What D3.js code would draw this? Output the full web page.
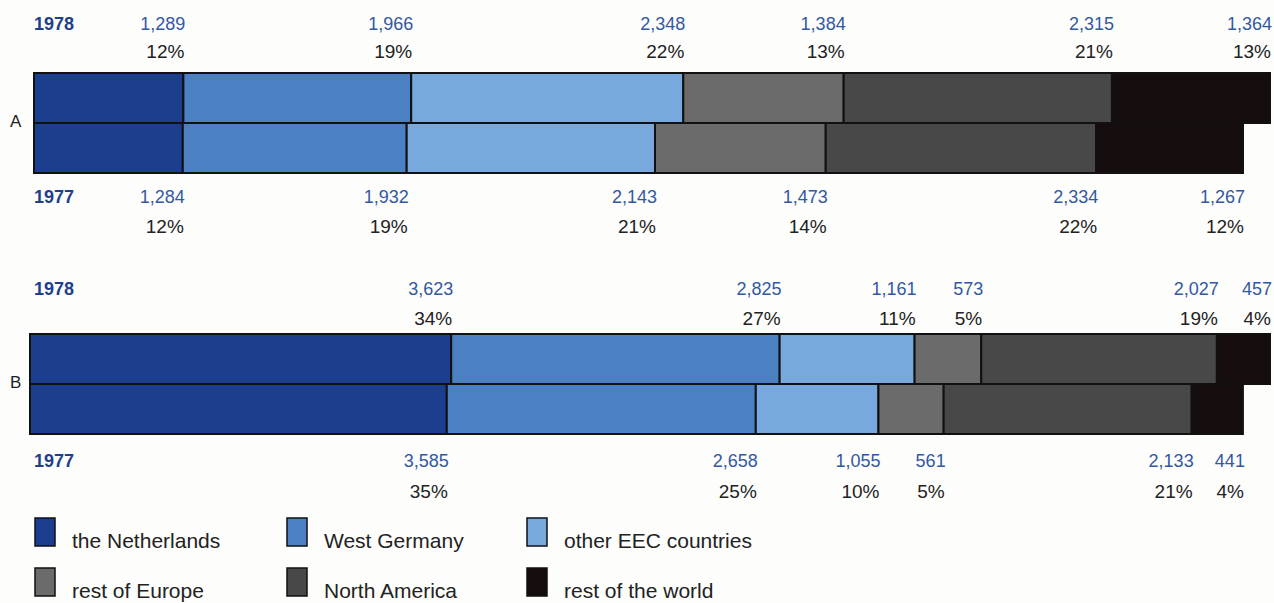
<!DOCTYPE html>
<html>
<head>
<meta charset="utf-8">
<script src="https://cdn.jsdelivr.net/npm/d3@7"></script>
<style>
  body { margin: 0; background: #fdfdfc; }
  svg text { font-family: "Liberation Sans", Arial, Helvetica, sans-serif; }
</style>
</head>
<body>
<div id="chart"></div>
<script>
// categories (stack order, left to right)
const regions = ["the Netherlands", "West Germany", "other EEC countries", "rest of Europe", "North America", "rest of the world"];
const regionColors = ["#1b3f8e", "#4b80c2", "#77a9de", "#6b6b6b", "#484848", "#150d0d"];

const groups = ["A", "B"];
const years = ["1978", "1977"];

// values per group per year
const a1978 = [1289, 1966, 2348, 1384, 2315, 1364];
const a1977 = [1284, 1932, 2143, 1473, 2334, 1267];
const b1978 = [3623, 2825, 1161, 573, 2027, 457];
const b1977 = [3585, 2658, 1055, 561, 2133, 441];

// percent labels as printed
const a1978Pct = ["12%", "19%", "22%", "13%", "21%", "13%"];
const a1977Pct = ["12%", "19%", "21%", "14%", "22%", "12%"];
const b1978Pct = ["34%", "27%", "11%", "5%", "19%", "4%"];
const b1977Pct = ["35%", "25%", "10%", "5%", "21%", "4%"];

const rows = [
  { group: "A", year: "1978", values: a1978, pct: a1978Pct },
  { group: "A", year: "1977", values: a1977, pct: a1977Pct },
  { group: "B", year: "1978", values: b1978, pct: b1978Pct },
  { group: "B", year: "1977", values: b1977, pct: b1977Pct }
];

const width = 1274, height = 603;

// layout per group: bar box and label baselines
const layout = {
  A: { left: 34, top: 73, valAbove: 30, pctAbove: 58, valBelow: 203, pctBelow: 233 },
  B: { left: 30, top: 334, valAbove: 295, pctAbove: 325, valBelow: 467, pctBelow: 498 }
};
const barH = 50;
const right = 1270;

const svg = d3.select("#chart")
  .append("svg")
  .attr("width", width)
  .attr("height", height);

const maxTotal = d3.max(rows, r => d3.sum(r.values));

const xFor = gname => d3.scaleLinear()
  .domain([0, maxTotal])
  .range([layout[gname].left, right]);

const yBand = d3.scaleBand()
  .domain(years)
  .range([0, barH * 2])
  .padding(0);

rows.forEach(row => {
  const L = layout[row.group];
  const x = xFor(row.group);
  const y0 = L.top + yBand(row.year);
  let cum = 0;
  const segs = row.values.map((v, i) => {
    const s = { start: cum, end: cum + v, value: v, pct: row.pct[i], i };
    cum += v;
    return s;
  });

  const g = svg.append("g").attr("class", "row");

  g.selectAll("rect")
    .data(segs)
    .enter()
    .append("rect")
    .attr("x", d => x(d.start))
    .attr("y", y0)
    .attr("width", d => x(d.end) - x(d.start))
    .attr("height", yBand.bandwidth())
    .attr("fill", d => regionColors[d.i])
    .attr("stroke", "#111")
    .attr("stroke-width", 2);

  const above = row.year === "1978";
  const valY = above ? L.valAbove : L.valBelow;
  const pctY = above ? L.pctAbove : L.pctBelow;

  // value labels, right-aligned to each segment end
  g.selectAll("text.val")
    .data(segs)
    .enter()
    .append("text")
    .attr("class", "val")
    .attr("x", d => x(d.end) + 2)
    .attr("y", valY)
    .attr("text-anchor", "end")
    .attr("font-size", "18px")
    .attr("fill", "#3358a3")
    .text(d => d3.format(",")(d.value));

  g.selectAll("text.pct")
    .data(segs)
    .enter()
    .append("text")
    .attr("class", "pct")
    .attr("x", d => x(d.end) + 1)
    .attr("y", pctY)
    .attr("text-anchor", "end")
    .attr("font-size", "19px")
    .attr("fill", "#222")
    .text(d => d.pct);

  // year label
  svg.append("text")
    .attr("x", 34)
    .attr("y", valY)
    .attr("font-size", "18px")
    .attr("font-weight", "bold")
    .attr("fill", "#1f3f8a")
    .text(row.year);
});

// group labels A / B
groups.forEach(gname => {
  svg.append("text")
    .attr("x", 10)
    .attr("y", layout[gname].top + barH + 4)
    .attr("font-size", "17px")
    .attr("fill", "#222")
    .text(gname);
});

// legend
const legendCols = [35, 287, 527];
const legendRows = [518, 568];
const legend = svg.append("g").attr("class", "legend");

regions.forEach((name, i) => {
  const lx = legendCols[i % 3];
  const ly = legendRows[Math.floor(i / 3)];
  legend.append("rect")
    .attr("x", lx)
    .attr("y", ly)
    .attr("width", 20)
    .attr("height", 28)
    .attr("fill", regionColors[i])
    .attr("stroke", "#111")
    .attr("stroke-width", 1.5);
  legend.append("text")
    .attr("x", lx + 37)
    .attr("y", ly + 30)
    .attr("font-size", "21px")
    .attr("fill", "#222")
    .text(name);
});
</script>
</body>
</html>
